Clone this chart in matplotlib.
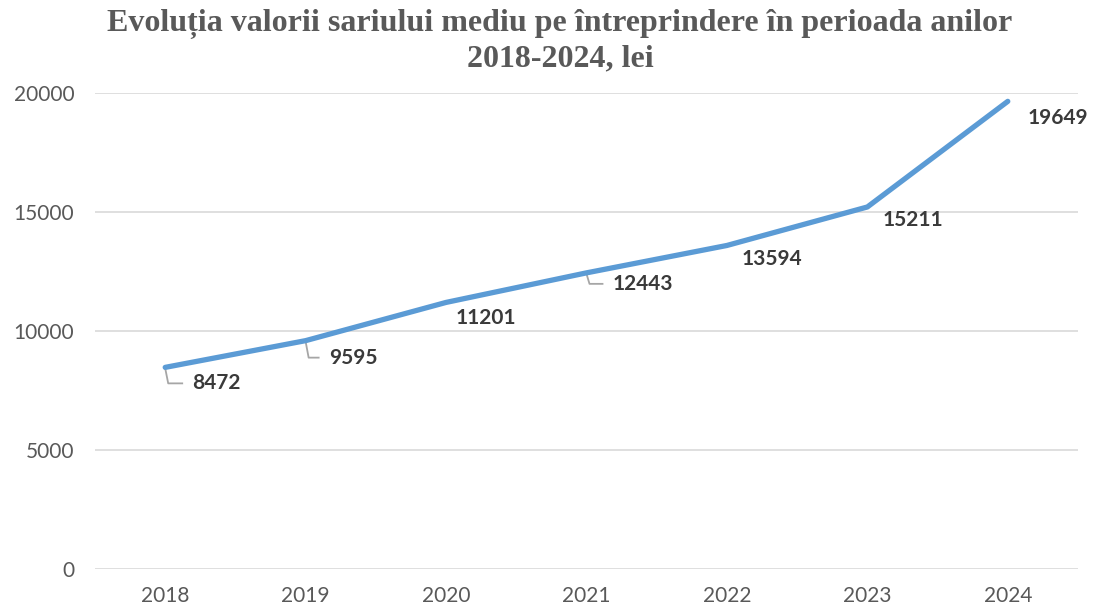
import matplotlib.pyplot as plt
from matplotlib import transforms

ani = ["2018", "2019", "2020", "2021", "2022", "2023", "2024"]
salariu_mediu = [8472, 9595, 11201, 12443, 13594, 15211, 19649]

# deplasarea etichetelor (pixeli) si daca au linie de legatura
offset_etichete = [(27, -16), (23, -17), (40, -16), (26, -11), (45, -14), (46, -13), (50, -17)]
linie_legatura = [True, True, False, True, False, False, False]
aliniere = ["left", "left", "center", "left", "center", "center", "center"]

fig = plt.figure(figsize=(10.97, 6.10), dpi=100)
ax = fig.add_axes([95 / 1097, 1 - 569 / 610, 983 / 1097, 476 / 610])

x = list(range(len(ani)))
ax.plot(x, salariu_mediu, color="#5B9BD5", linewidth=3.8, solid_capstyle="round", zorder=3)

ax.set_xlim(-0.5, len(ani) - 0.5)
ax.set_ylim(0, 20000)
ax.set_yticks([0, 5000, 10000, 15000, 20000])
ax.set_xticks(x)
ax.set_xticklabels(ani)
ax.grid(axis="y", color="#D9D9D9", linewidth=1.2)
ax.set_axisbelow(True)
for s in ax.spines.values():
    s.set_visible(False)
ax.tick_params(length=0, labelsize=15, labelcolor="#595959")
ax.tick_params(axis="y", pad=15)
ax.tick_params(axis="x", pad=12)
for lbl in ax.get_xticklabels() + ax.get_yticklabels():
    lbl.set_fontfamily("Lato")

inv = ax.transData.inverted()
for i, v in enumerate(salariu_mediu):
    dx, dy = offset_etichete[i]
    ax.annotate(str(v), (i, v), xytext=(dx, dy), textcoords="offset pixels",
                ha=aliniere[i], va="center", fontsize=15, fontweight="bold",
                color="#3A3A3A", family="Lato")
    if linie_legatura[i]:
        # linie de legatura in pixeli, relativ la punct
        pts = [(0, -1), (3, dy), (dx - 10, dy)]
        off = [transforms.offset_copy(ax.transData, fig=fig, x=p[0], y=p[1], units="dots") for p in pts]
        dat = [inv.transform(o.transform((i, v))) for o in off]
        ax.plot([d[0] for d in dat], [d[1] for d in dat], color="#A6A6A6",
                linewidth=1.3, zorder=2)

fig.text(560 / 1097, 1 - 41 / 610,
         "Evoluția valorii sariului mediu pe întreprindere în perioada anilor\n2018-2024, lei",
         ha="center", va="center", fontsize=23, fontweight="bold",
         family="Liberation Serif", color="#595959", linespacing=1.22)

fig.savefig("out.png", dpi=100)
